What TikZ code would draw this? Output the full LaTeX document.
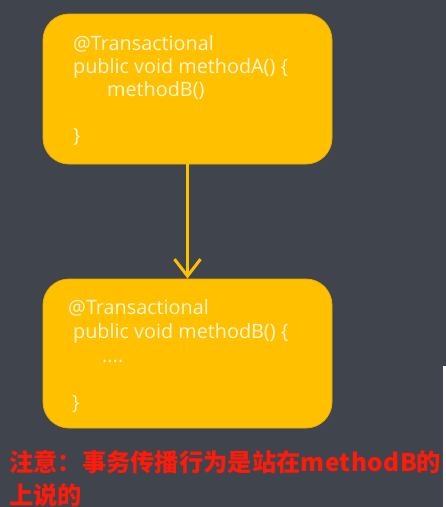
\documentclass[tikz,border=0pt]{standalone}
\usepackage{fontspec}
\setmainfont{Open Sans}
\newfontfamily\cjk{Noto Sans CJK SC}
\newfontfamily\cjklat{Noto Sans CJK SC}[LetterSpace=2]
\usetikzlibrary{arrows.meta}
\definecolor{bgc}{HTML}{40444C}
\definecolor{boxc}{HTML}{FFC000}
\definecolor{boxedge}{HTML}{E8AE00}
\definecolor{codec}{HTML}{FFF6D8}
\definecolor{notec}{HTML}{FF1A0A}
\tikzset{
  codebox/.style={draw=boxedge, line width=0.8pt, fill=boxc, rounded corners=26pt,
    minimum width=289pt, inner sep=0pt},
  code/.style={anchor=base west, inner sep=0pt, text=codec, font=\fontsize{19.8}{24}\selectfont},
  note/.style={anchor=base west, inner sep=0pt, text=notec, font=\cjk\bfseries\fontsize{24.3}{30}\selectfont},
  flow/.style={draw=boxc, line width=3pt, -{Straight Barb[length=17pt,width=26pt,line width=3pt]}}
}
\begin{document}
\begin{tikzpicture}[x=1pt,y=-1pt]
\fill[bgc] (0,0) rectangle (446,507);
\useasboundingbox (0,0) rectangle (446,507);
\node[codebox, minimum height=150pt] (A) at (187.5,89) {};
\node[codebox, minimum height=149pt] (B) at (187.5,353.5) {};
\draw[flow] (A.south) -- (B.north);
\node[code] (a1) at (73,50) {@Transactional};
\node[code] (a2) at (73,73) {public void methodA() \{};
\node[code] (a3) at (107,96) {methodB()};
\node[code] (a4) at (73,142) {\}};
\node[code] (b1) at (68,314) {@Transactional};
\node[code] (b2) at (73,338) {public void methodB() \{};
\node[code] (b3) at (102,362) {....};
\node[code] (b4) at (72,409) {\}};
\node[note] (n1) at (9,471) {注意：事务传播行为是站在{\cjklat\bfseries methodB}的};
\node[note] (n2) at (9,504) {上说的};
\fill[white] (443,366) rectangle (446,507);
\end{tikzpicture}
\end{document}
